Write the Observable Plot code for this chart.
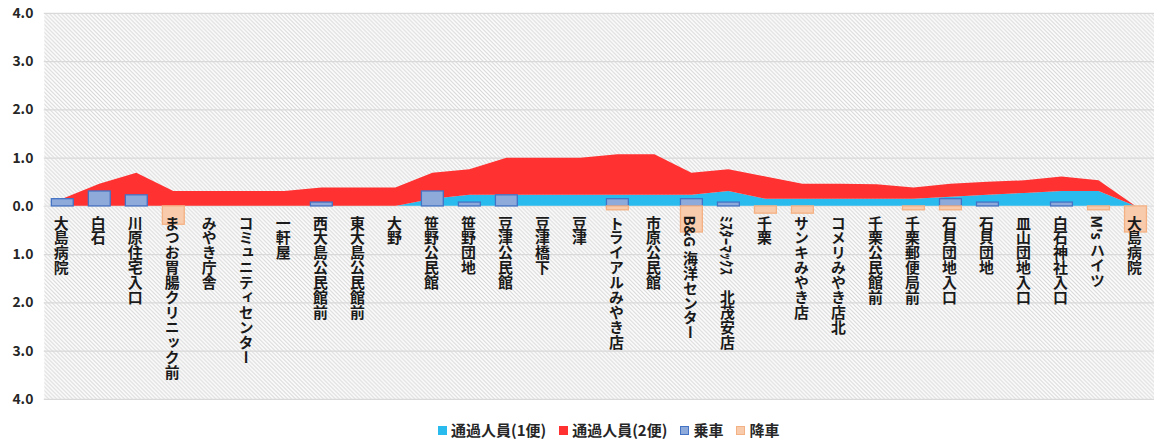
<!DOCTYPE html>
<html><head><meta charset="utf-8">
<script src="https://cdn.jsdelivr.net/npm/d3@7"></script>
<script src="https://cdn.jsdelivr.net/npm/@observablehq/plot@0.6"></script>
<style>
html,body{margin:0;padding:0;background:#fff;width:1154px;height:441px;overflow:hidden;}
#chart svg{display:block;}
.legend{position:absolute;left:0;top:412px;width:1154px;height:29px;font-family:"Noto Sans CJK JP","Noto Sans",sans-serif;font-weight:bold;font-size:15px;color:#262626;}
.legend .items{position:absolute;left:438px;top:9px;display:flex;align-items:center;line-height:18px;}
.legend .item{display:flex;align-items:center;margin-right:13px;}
.legend .sw{width:9px;height:9px;box-sizing:border-box;margin-right:4px;}
</style></head><body>
<div id="chart"></div>
<div class="legend"><div class="items" id="legend"></div></div>
<script>
const stops = ["大島病院","白石","川原住宅入口","まつお胃腸クリニック前","みやき庁舎","コミュニティセンター","一軒屋","西大島公民館前","東大島公民館前","大野","笹野公民館","笹野団地","豆津公民館","豆津橋下","豆津","トライアルみやき店","市原公民館","B&G 海洋センター","ﾐｽﾀｰﾏｯｸｽ　北茂安店","千栗","サンキみやき店","コメリみやき店北","千栗公民館前","千栗郵便局前","石貝団地入口","石貝団地","皿山団地入口","白石神社入口","M's ハイツ","大島病院"];
const pass1 = [0,0,0,0,0,0,0,0,0,0,0.15,0.23,0.23,0.23,0.23,0.23,0.23,0.23,0.31,0.15,0.15,0.15,0.15,0.15,0.19,0.23,0.27,0.31,0.31,0];
const pass2 = [0.15,0.46,0.69,0.31,0.31,0.31,0.31,0.38,0.38,0.38,0.54,0.53,0.77,0.77,0.77,0.84,0.84,0.46,0.45,0.46,0.31,0.31,0.30,0.23,0.27,0.27,0.26,0.30,0.22,0];
const boarding = [0.15,0.31,0.23,0,0,0,0,0.08,0,0,0.31,0.08,0.23,0,0,0.15,0,0.15,0.08,0,0,0,0,0,0.15,0.08,0,0.08,0,0];
const alighting = [0,0,0,0.38,0,0,0,0,0,0,0,0,0,0,0,0.08,0,0.54,0,0.15,0.15,0,0,0.08,0.08,0,0,0,0.08,0.54];
const yTicks = [-4,-3,-2,-1,0,1,2,3,4];
const seriesNames = ["通過人員(1便)","通過人員(2便)","乗車","降車"];
const fills = ["#29bbee","#ff3131","#8eaadb","#f8cbad"];
const strokes = [null,null,"#4472c4","#f4b183"];

const areaRows = [
  ...pass1.map((v,i)=>({i, v, s: seriesNames[0]})),
  ...pass2.map((v,i)=>({i, v, s: seriesNames[1]}))
];
const boardRows = boarding.map((v,i)=>({i,v})).filter(d=>d.v!==0);
const alightRows = alighting.map((v,i)=>({i,v:-v})).filter(d=>d.v!==0);
const labelRows = stops.map((s,i)=>({i,s}));

const svg = Plot.plot({
  width: 1160, height: 412,
  marginLeft: 44, marginRight: 0, marginTop: 13, marginBottom: 11,
  style: {fontFamily: '"Noto Sans CJK JP","Noto Sans",sans-serif', color: "#262626", background: "#fff"},
  x: {type: "linear", domain: [-0.5, 29.5], axis: null},
  y: {domain: [-4, 4], axis: null},
  color: {domain: seriesNames.slice(0,2), range: fills.slice(0,2)},
  marks: [
    Plot.frame({fill: "url(#hatch)", stroke: null}),
    Plot.ruleY(yTicks, {stroke: "#d9d9d9", strokeWidth: 1.2}),
    Plot.areaY(areaRows, Plot.stackY({x: "i", y: "v", fill: "s", order: null})),
    Plot.ruleY([0], {stroke: "#e4e4e4", strokeWidth: 1.2}),
    Plot.rectY(boardRows, {x1: d=>d.i-0.5, x2: d=>d.i+0.5, y1: 0, y2: "v", insetLeft: 7.6, insetRight: 7.6, fill: fills[2], stroke: strokes[2], strokeWidth: 1.3}),
    Plot.rectY(alightRows, {x1: d=>d.i-0.5, x2: d=>d.i+0.5, y1: 0, y2: "v", insetLeft: 7.6, insetRight: 7.6, fill: fills[3], stroke: strokes[3], strokeWidth: 1.3}),
    Plot.axisY({ticks: yTicks, tickFormat: d => Math.abs(d).toFixed(1), tickSize: 0, tickPadding: 11, fontSize: 14, fontWeight: "bold", label: null}),
    Plot.text(labelRows, {x: "i", y: 0, text: "s", dy: 9, dx: -1.5, textAnchor: "start", lineAnchor: "bottom", fontSize: 15, fontWeight: "bold", fill: "#1a1a1a"})
  ]
});

const s = d3.select(svg);
const defs = s.insert("defs", ":first-child");
const pat = defs.append("pattern").attr("id","hatch").attr("patternUnits","userSpaceOnUse").attr("width",4).attr("height",4);
pat.append("rect").attr("width",4).attr("height",4).attr("fill","#ffffff");
pat.append("path").attr("d","M-1,-1L5,5M-1,3L1,5M3,-1L5,1").attr("stroke","#d6d6d6").attr("stroke-width",1.1);
s.selectAll('g[aria-label="text"] text').attr("writing-mode","vertical-rl").style("writing-mode","vertical-rl");
document.getElementById("chart").appendChild(svg);

const lg = document.getElementById("legend");
seriesNames.forEach((n,k)=>{
  const it = document.createElement("div"); it.className="item";
  const sw = document.createElement("div"); sw.className="sw";
  sw.style.background = fills[k];
  if (strokes[k]) sw.style.border = "1px solid " + strokes[k];
  const t = document.createElement("span"); t.textContent = n;
  it.appendChild(sw); it.appendChild(t); lg.appendChild(it);
});
</script>
</body></html>
